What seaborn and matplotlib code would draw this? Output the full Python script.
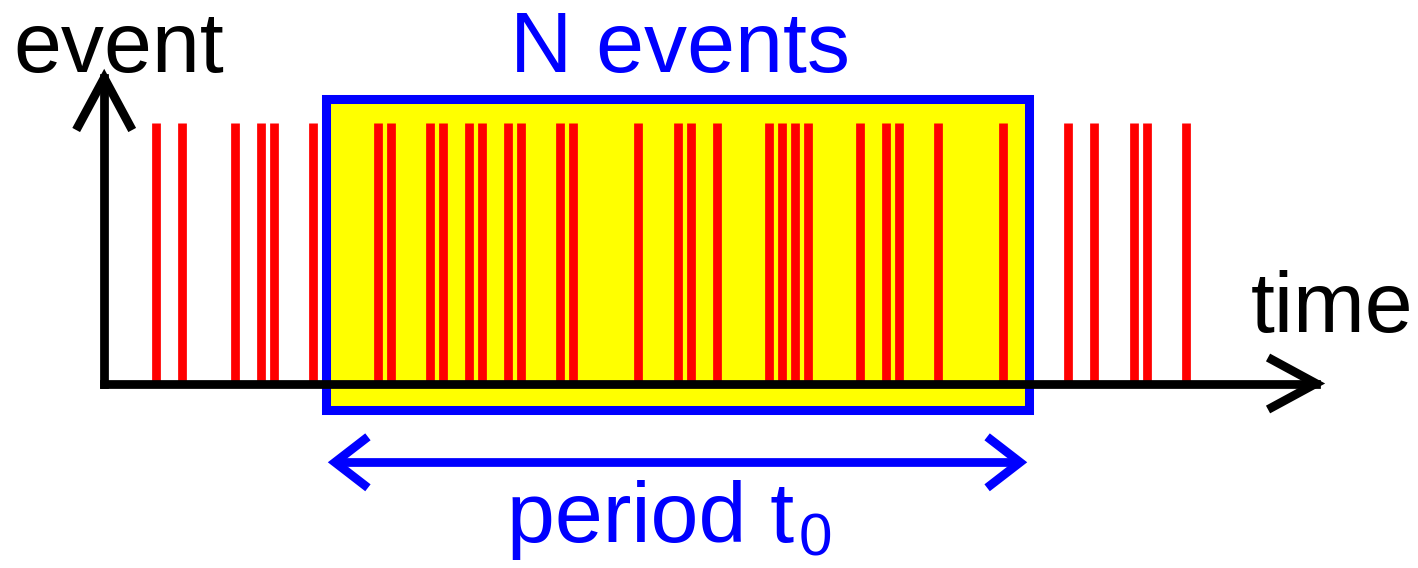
import matplotlib
matplotlib.use("Agg")
import matplotlib.pyplot as plt
from matplotlib.patches import Rectangle
import seaborn as sns
import pandas as pd

# ---- data ----
event_times = [4, 6, 10, 12, 13, 16, 21, 22, 25, 26, 28, 29, 31, 32, 35, 36,
               41, 44, 45, 47, 51, 52, 53, 54, 58, 60, 61, 64, 69, 74, 76, 79,
               80, 83]
period_start = 17
period_end = 71
axis_end = 93
labels = {"y": "event", "x": "time", "box": "N events", "period": "period t", "sub": "0"}

# ---- style ----
sns.set_theme(style="white")
plt.rcParams["font.family"] = ["Liberation Sans", "DejaVu Sans"]

W, H, DPI = 1418, 568, 100
PX_PER_T = 13.03
ORIGIN_PX = 104.2
AXIS_Y_PX = 383.5
PX_PER_Y = 260.0

xlim = (-ORIGIN_PX / PX_PER_T, (W - ORIGIN_PX) / PX_PER_T)
ylim = (-(H - AXIS_Y_PX) / PX_PER_Y, AXIS_Y_PX / PX_PER_Y)

RED, BLUE, YEL, BLK = "#FF0000", "#0000FF", "#FFFF00", "#000000"
LW = 6.3
FS = 62

fig = plt.figure(figsize=(W / DPI, H / DPI), dpi=DPI)

def make_axes(rect, z):
    a = fig.add_axes(rect, zorder=z)
    a.set_axis_off()
    a.patch.set_visible(False)
    return a

ax_bg = make_axes([0, 0, 1, 1], 0)
ax_bg.set_xlim(*xlim); ax_bg.set_ylim(*ylim)

box_bottom, box_top = -0.1, 1.094
ax_bg.add_patch(Rectangle((period_start, box_bottom), period_end - period_start,
                          box_top - box_bottom, facecolor=YEL, edgecolor="none"))

# event axes: bottom at time axis, top at event height
ev_top_px = 123.3
ax_ev = make_axes([0, (H - AXIS_Y_PX) / H, 1, (AXIS_Y_PX - ev_top_px) / H], 1)
df = pd.DataFrame({"t": event_times})
sns.rugplot(data=df, x="t", height=1.0, ax=ax_ev, color=RED, linewidth=LW,
            expand_margins=False)
ax_ev.set_xlim(*xlim); ax_ev.set_ylim(0, 1)

ax = make_axes([0, 0, 1, 1], 2)
ax.set_xlim(*xlim); ax.set_ylim(*ylim)

ax.add_patch(Rectangle((period_start, box_bottom), period_end - period_start,
                       box_top - box_bottom, facecolor="none", edgecolor=BLUE,
                       linewidth=6.5, joinstyle="miter"))

# time axis
ax.plot([0, axis_end], [0, 0], color=BLK, lw=LW, solid_capstyle="projecting")
ax.plot([axis_end - 3.68, axis_end, axis_end - 3.68], [0.1, 0, -0.1], color=BLK,
        lw=LW, solid_joinstyle="miter", solid_capstyle="butt")
# event axis
v_top = 1.175
ax.plot([0, 0], [0, v_top], color=BLK, lw=LW, solid_capstyle="projecting")
ax.plot([-2.15, 0, 2.15], [v_top - 0.2, v_top, v_top - 0.2], color=BLK,
        lw=LW, solid_joinstyle="miter", solid_capstyle="butt")

# period double arrow
ya = -(462.3 - AXIS_Y_PX) / PX_PER_Y
inset = 0.71
l, r = period_start + inset, period_end - inset
ax.plot([l, r], [ya, ya], color=BLUE, lw=LW, solid_capstyle="butt")
ax.plot([l + 2.53, l, l + 2.53], [ya + 0.098, ya, ya - 0.098], color=BLUE, lw=LW,
        solid_joinstyle="miter", solid_capstyle="butt")
ax.plot([r - 2.53, r, r - 2.53], [ya + 0.098, ya, ya - 0.098], color=BLUE, lw=LW,
        solid_joinstyle="miter", solid_capstyle="butt")

def ftext(px, py, s, color, size):
    fig.text(px / W, 1 - py / H, s, color=color, fontsize=size,
             ha="left", va="baseline", zorder=5)

ftext(13, 71.7, labels["y"], BLK, FS)
ftext(510, 72, labels["box"], BLUE, FS)
ftext(1251, 331.7, labels["x"], BLK, FS)
ftext(507, 541.7, labels["period"], BLUE, FS)
ftext(799, 555, labels["sub"], BLUE, FS * 0.7)

fig.savefig("out.png", dpi=DPI)
